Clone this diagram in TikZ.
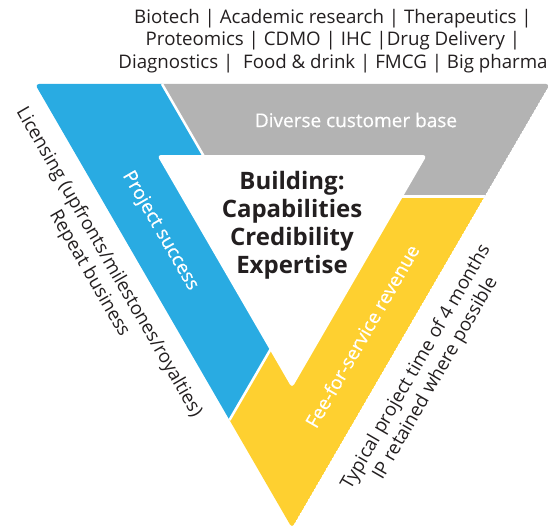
\documentclass[tikz,border=0pt]{standalone}
\usepackage{fontspec}
\setmainfont{Open Sans}
\newfontfamily\semifont[FakeBold=0.5]{Open Sans}
\usetikzlibrary{calc}
\definecolor{cblue}{RGB}{41,171,226}
\definecolor{cgray}{RGB}{179,179,179}
\definecolor{cyellow}{RGB}{254,208,48}
\definecolor{ctext}{RGB}{35,31,32}
\tikzset{
  bandtext/.style={text=white, font=\semifont\fontsize{19}{22}\selectfont, inner sep=0pt},
  sidetext/.style={text=ctext, font=\fontsize{18.7}{22.5}\selectfont, align=center, inner sep=0pt},
  gap/.style={white, line width=2.5pt}
}
\begin{document}
\begin{tikzpicture}[x=1pt,y=-1pt]
\useasboundingbox (0,0) rectangle (549,527);
\coordinate (A) at (35,84);
\coordinate (B) at (550,84);
\coordinate (C) at (292,528);
\coordinate (P1) at (162,84);
\coordinate (PX) at (293.1,310.5);
\coordinate (Q1) at (229.5,420);
\coordinate (G1) at (227.1,196.5);
\coordinate (G2) at (484.6,196.5);
\begin{scope}
  \clip[rounded corners=4pt] (A) -- (B) -- (C) -- cycle;
  \fill[cblue] (A) -- (P1) -- (PX) -- (Q1) -- cycle;
  \fill[cgray] (P1) -- (B) -- (G2) -- (G1) -- cycle;
  \fill[cyellow] (G1) -- (G2) -- (C) -- (Q1) -- (PX) -- cycle;
  \draw[gap] (P1) -- (G1);
  \draw[gap] (G1) -- ($(G2)+(10,0)$);
  \draw[gap] (Q1) -- (PX);
\end{scope}
\fill[white, rounded corners=4pt] (157,155) -- (427,155) -- (292,388) -- cycle;
\node[sidetext] (top) at (333,41) {Biotech | Academic research | Therapeutics |\\ Proteomics | CDMO | IHC |Drug Delivery |\\ Diagnostics | \ Food \& drink | FMCG | Big pharma};
\node[text=ctext, font=\bfseries\fontsize{24}{28}\selectfont, align=center, inner sep=0pt] (core) at (292,225) {Building:\\Capabilities\\Credibility\\Expertise};
\node[bandtext] (diverse) at (356,120) {Diverse customer base};
\node[bandtext, rotate=-60] (proj) at (160,231) {Project success};
\node[bandtext, rotate=60] (fee) at (362,336) {Fee-for-service revenue};
\node[sidetext, rotate=-60] (lic) at (99,268) {Licensing (upfronts/milestones/royalties)\\Repeat business};
\node[sidetext, rotate=60] (typ) at (426,373) {Typical project time of 4 months\\IP retained where possible};
\end{tikzpicture}
\end{document}
